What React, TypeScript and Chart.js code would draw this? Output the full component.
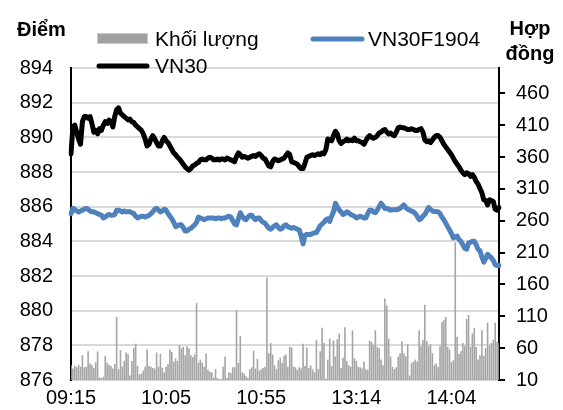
import React, { useEffect, useRef } from 'react';
import { Chart, registerables } from 'chart.js';

Chart.register(...registerables);

// Session minutes: morning 09:15-11:30, afternoon from 13:00
const MORNING_START = [9, 15];
const MORNING_END = [11, 30];
const AFTERNOON_START = [13, 0];
const POINT_COUNT = 226;

const X_TICK_LABELS = ['09:15', '10:05', '10:55', '13:14', '14:04'];
const LEFT_TICKS = [876, 878, 880, 882, 884, 886, 888, 890, 892, 894];
const RIGHT_TICKS = [10, 60, 110, 160, 210, 260, 310, 360, 410, 460];

const VN30 = [
  889.05, 890.6, 890.7, 890.3, 889.9, 889.6, 890.9, 891.2, 891.2, 891.1,
  891.2, 890.8, 890.3, 890.4, 890.2, 890.5, 890.4, 890.7, 890.9, 890.8,
  891.0, 890.9, 890.6, 891.2, 891.6, 891.7, 891.4, 891.3, 891.2, 891.1,
  891.0, 891.05, 890.9, 890.85, 890.7, 890.6, 890.5, 890.4, 890.2, 889.9,
  889.5, 889.6, 889.9, 890.1, 889.9, 889.7, 889.5, 889.5, 889.8, 890.0,
  889.8, 889.7, 889.5, 889.3, 889.1, 889.0, 888.85, 888.75, 888.6, 888.45,
  888.3, 888.2, 888.1, 888.2, 888.35, 888.4, 888.5, 888.55, 888.7, 888.75,
  888.7, 888.7, 888.8, 888.85, 888.8, 888.7, 888.7, 888.75, 888.7, 888.75,
  888.75, 888.7, 888.8, 888.75, 888.7, 888.65, 888.6, 888.9, 889.1, 889.0,
  888.85, 888.9, 888.85, 888.8, 888.85, 888.9, 888.95, 888.9, 889.0, 889.05,
  888.95, 888.8, 888.75, 888.55, 888.35, 888.3, 888.6, 888.75, 888.7, 888.65,
  888.7, 888.75, 888.8, 888.95, 889.1, 889.0, 888.6, 888.55, 888.5, 888.45,
  888.3, 888.2, 888.2, 888.5, 888.85, 888.9, 888.95, 889.0, 888.95, 889.0,
  889.05, 889.0, 889.1, 889.05, 889.3, 889.9, 889.85, 889.8, 890.1, 890.35,
  890.2, 889.8, 889.65, 889.75, 889.8, 889.9, 889.8, 889.85, 889.8, 889.95,
  889.8, 889.8, 889.75, 889.7, 889.6, 889.8, 890.0, 890.1, 890.0, 889.95,
  890.0, 890.1, 890.25, 890.3, 890.4, 890.45, 890.3, 890.2, 890.25, 890.15,
  890.1, 890.3, 890.55, 890.6, 890.55, 890.55, 890.5, 890.45, 890.45, 890.5,
  890.45, 890.4, 890.4, 890.45, 890.5, 890.3, 889.85, 889.75, 889.8, 889.7,
  889.85, 890.0, 890.1, 890.1, 890.0, 889.8, 889.6, 889.45, 889.3, 889.15,
  889.0, 888.8, 888.6, 888.45, 888.3, 888.1, 887.95, 887.85, 887.95, 887.9,
  887.75, 887.85, 887.7, 887.45, 887.3, 887.05, 886.8, 886.4, 886.35, 886.1,
  886.4, 886.35, 886.3, 885.85, 885.8, 885.95,
];

const VN30F1904 = [
  885.6, 885.9, 885.85, 885.75, 885.7, 885.75, 885.8, 885.85, 885.9, 885.85,
  885.75, 885.7, 885.7, 885.65, 885.6, 885.55, 885.5, 885.35, 885.4, 885.5,
  885.55, 885.5, 885.5, 885.55, 885.8, 885.8, 885.75, 885.7, 885.75, 885.7,
  885.7, 885.72, 885.65, 885.6, 885.45, 885.35, 885.4, 885.45, 885.45, 885.4,
  885.45, 885.5, 885.6, 885.7, 885.85, 885.9, 885.8, 885.7, 885.75, 885.85,
  885.8, 885.6, 885.45, 885.3, 885.1, 884.85, 884.9, 884.95, 884.95, 884.8,
  884.6, 884.6, 884.7, 884.75, 884.85, 884.95, 885.1, 885.4, 885.35, 885.3,
  885.25, 885.3, 885.35, 885.35, 885.35, 885.35, 885.3, 885.35, 885.35, 885.3,
  885.35, 885.35, 885.4, 885.45, 885.4, 885.2, 885.0, 884.95, 885.3, 885.65,
  885.45, 885.3, 885.25, 885.4, 885.5, 885.5, 885.35, 885.25, 885.35, 885.35,
  885.2, 885.1, 885.05, 884.9, 884.75, 884.7, 884.8, 884.9, 884.95, 884.8,
  884.7, 884.75, 884.9, 884.95, 884.85, 884.8, 884.75, 884.8, 884.75, 884.7,
  884.65, 884.3, 883.85, 884.35, 884.4, 884.4, 884.4, 884.45, 884.5, 884.5,
  884.7, 884.9, 885.0, 885.1, 885.25, 885.3, 885.15, 885.45, 885.7, 886.2,
  886.0, 885.8, 885.7, 885.55, 885.6, 885.7, 885.65, 885.55, 885.5, 885.45,
  885.35, 885.4, 885.45, 885.4, 885.35, 885.35, 885.6, 885.8, 885.8, 885.7,
  885.65, 885.8, 886.0, 886.2, 886.05, 885.9, 885.9, 885.85, 885.8, 885.82,
  885.82, 885.82, 885.85, 885.9, 886.0, 886.1, 885.95, 885.85, 885.8, 885.75,
  885.7, 885.6, 885.45, 885.25, 885.3, 885.45, 885.55, 885.75, 885.95, 885.85,
  885.75, 885.72, 885.72, 885.7, 885.6, 885.4, 885.25, 885.05, 884.85, 884.65,
  884.45, 884.2, 884.25, 884.3, 884.1, 884.0, 883.8, 883.6, 883.55, 883.9,
  883.95, 884.0, 884.0, 883.8, 883.55, 883.45, 883.1, 882.8, 883.0, 883.25,
  883.15, 883.05, 882.9, 882.65, 882.6, 882.6,
];

const VOLUME = [
  33, 28, 32, 30, 34, 31, 49, 30, 31, 55,
  36, 33, 29, 38, 55, 14, 13, 15, 48, 37,
  34, 32, 28, 35, 109, 27, 57, 31, 40, 53,
  51, 17, 40, 60, 67, 32, 19, 20, 25, 31,
  58, 32, 31, 29, 28, 53, 31, 51, 29, 22,
  31, 35, 58, 54, 39, 44, 40, 65, 60, 62,
  49, 63, 60, 49, 46, 50, 131, 37, 42, 37,
  31, 52, 26, 23, 22, 14, 27, 13, 11, 11,
  31, 47, 13, 22, 21, 30, 30, 120, 37, 79,
  22, 20, 16, 13, 27, 30, 56, 28, 43, 25,
  27, 29, 31, 171, 52, 68, 50, 33, 27, 41,
  45, 37, 48, 50, 31, 62, 61, 31, 30, 26,
  30, 28, 67, 32, 61, 29, 33, 27, 22, 73,
  27, 55, 92, 68, 12, 42, 75, 32, 72, 47,
  74, 83, 29, 45, 93, 40, 33, 31, 88, 44,
  40, 31, 30, 28, 39, 27, 26, 72, 70, 65,
  88, 62, 60, 42, 33, 138, 127, 75, 47, 31,
  27, 30, 47, 52, 71, 52, 47, 66, 17, 37,
  39, 42, 39, 88, 63, 73, 128, 71, 63, 66,
  52, 33, 36, 31, 63, 101, 104, 109, 62, 58,
  38, 41, 226, 78, 51, 55, 68, 63, 106, 112,
  62, 83, 92, 62, 42, 49, 88, 48, 60, 100,
  64, 68, 73, 100, 70, 68,
];

function pad2(n: number) {
  return n < 10 ? '0' + n : '' + n;
}

function buildCategories(): string[] {
  const out: string[] = [];
  let h = MORNING_START[0];
  let m = MORNING_START[1];
  const endM = MORNING_END[0] * 60 + MORNING_END[1];
  while (out.length < POINT_COUNT) {
    out.push(pad2(h) + ':' + pad2(m));
    m += 1;
    if (m >= 60) { m -= 60; h += 1; }
    if (h * 60 + m > endM && h < AFTERNOON_START[0]) {
      h = AFTERNOON_START[0];
      m = AFTERNOON_START[1];
    }
  }
  return out;
}

const FONT_FAMILY = '"Liberation Sans", Arial, sans-serif';

const titleLegendPlugin = {
  id: 'titleLegend',
  afterDraw(chart: any) {
    const ctx = chart.ctx;
    const ds = chart.data.datasets;
    ctx.save();
    ctx.textBaseline = 'alphabetic';
    ctx.fillStyle = '#000';
    ctx.font = 'bold 20px ' + FONT_FAMILY;
    ctx.textAlign = 'left';
    ctx.fillText('Điểm', 17, 36);
    ctx.textAlign = 'center';
    ctx.fillText('Hợp', 530, 35);
    ctx.fillText('đồng', 530, 60);

    ctx.textAlign = 'left';
    ctx.font = '21px ' + FONT_FAMILY;
    // Volume key
    ctx.fillStyle = '#a0a0a0';
    ctx.fillRect(97, 33, 51, 11);
    ctx.strokeStyle = '#c8c8c8';
    ctx.lineWidth = 1;
    ctx.strokeRect(97.5, 33.5, 50, 10);
    ctx.fillStyle = '#000';
    ctx.fillText(ds[0].label, 155, 46);
    // Futures key
    ctx.lineCap = 'round';
    ctx.strokeStyle = ds[1].borderColor;
    ctx.lineWidth = 5;
    ctx.beginPath();
    ctx.moveTo(313, 39);
    ctx.lineTo(362, 39);
    ctx.stroke();
    ctx.fillText(ds[1].label, 368, 46);
    // VN30 key
    ctx.strokeStyle = ds[2].borderColor;
    ctx.beginPath();
    ctx.moveTo(99, 66);
    ctx.lineTo(147, 66);
    ctx.stroke();
    ctx.fillText(ds[2].label, 155, 73);
    ctx.restore();
  },
};

export default function App() {
  const ref = useRef<HTMLCanvasElement | null>(null);

  useEffect(() => {
    if (!ref.current) return;
    const labels = buildCategories();
    const tickFont = { family: FONT_FAMILY, size: 20 };
    const chart = new Chart(ref.current, {
      type: 'bar',
      data: {
        labels,
        datasets: [
          {
            type: 'bar',
            label: 'Khối lượng',
            data: VOLUME,
            yAxisID: 'y1',
            backgroundColor: '#a6a6a6',
            borderWidth: 0,
            barPercentage: 0.85,
            categoryPercentage: 1,
            order: 3,
          },
          {
            type: 'line',
            label: 'VN30F1904',
            data: VN30F1904,
            yAxisID: 'y',
            borderColor: '#4f81bd',
            borderWidth: 5,
            pointRadius: 0,
            tension: 0,
            borderJoinStyle: 'round',
            borderCapStyle: 'round',
            order: 2,
          },
          {
            type: 'line',
            label: 'VN30',
            data: VN30,
            yAxisID: 'y',
            borderColor: '#000000',
            borderWidth: 5,
            pointRadius: 0,
            tension: 0,
            borderJoinStyle: 'round',
            borderCapStyle: 'round',
            order: 1,
          },
        ] as any,
      },
      options: {
        responsive: false,
        animation: false,
        devicePixelRatio: 1,
        layout: { padding: { top: 68, left: 0, right: 0, bottom: 0 } },
        plugins: {
          legend: { display: false },
          tooltip: { enabled: false },
        },
        scales: {
          x: {
            type: 'category',
            offset: false,
            grid: { display: false, drawTicks: false },
            border: { display: false },
            ticks: {
              autoSkip: false,
              maxRotation: 0,
              minRotation: 0,
              padding: 6,
              color: '#000',
              font: tickFont,
              callback: (_v: any, i: number) =>
                X_TICK_LABELS.includes(labels[i]) ? labels[i] : null,
            },
            afterFit: (s: any) => { s.height = 26; },
          },
          y: {
            position: 'left',
            min: LEFT_TICKS[0],
            max: LEFT_TICKS[LEFT_TICKS.length - 1],
            afterBuildTicks: (s: any) => { s.ticks = LEFT_TICKS.map((v) => ({ value: v })); },
            ticks: { padding: 18, color: '#000', font: tickFont },
            grid: { color: '#d9d9d9', lineWidth: 2, drawTicks: false },
            border: { color: '#000', width: 2 },
            afterFit: (s: any) => { s.width = 71; },
          },
          y1: {
            position: 'right',
            min: 10,
            max: 500,
            afterBuildTicks: (s: any) => { s.ticks = RIGHT_TICKS.map((v) => ({ value: v })); },
            ticks: { padding: 11, color: '#000', font: tickFont },
            grid: {
              drawOnChartArea: false,
              drawTicks: true,
              tickLength: 6,
              color: '#000',
              lineWidth: 2,
            },
            border: { color: '#000', width: 2 },
            afterFit: (s: any) => { s.width = 64; },
          },
        },
      } as any,
      plugins: [titleLegendPlugin],
    });
    return () => chart.destroy();
  }, []);

  return (
    <div style={{ position: 'absolute', left: 0, top: 0, width: 563, height: 410, background: '#fff' }}>
      <canvas ref={ref} width={563} height={410} />
    </div>
  );
}
